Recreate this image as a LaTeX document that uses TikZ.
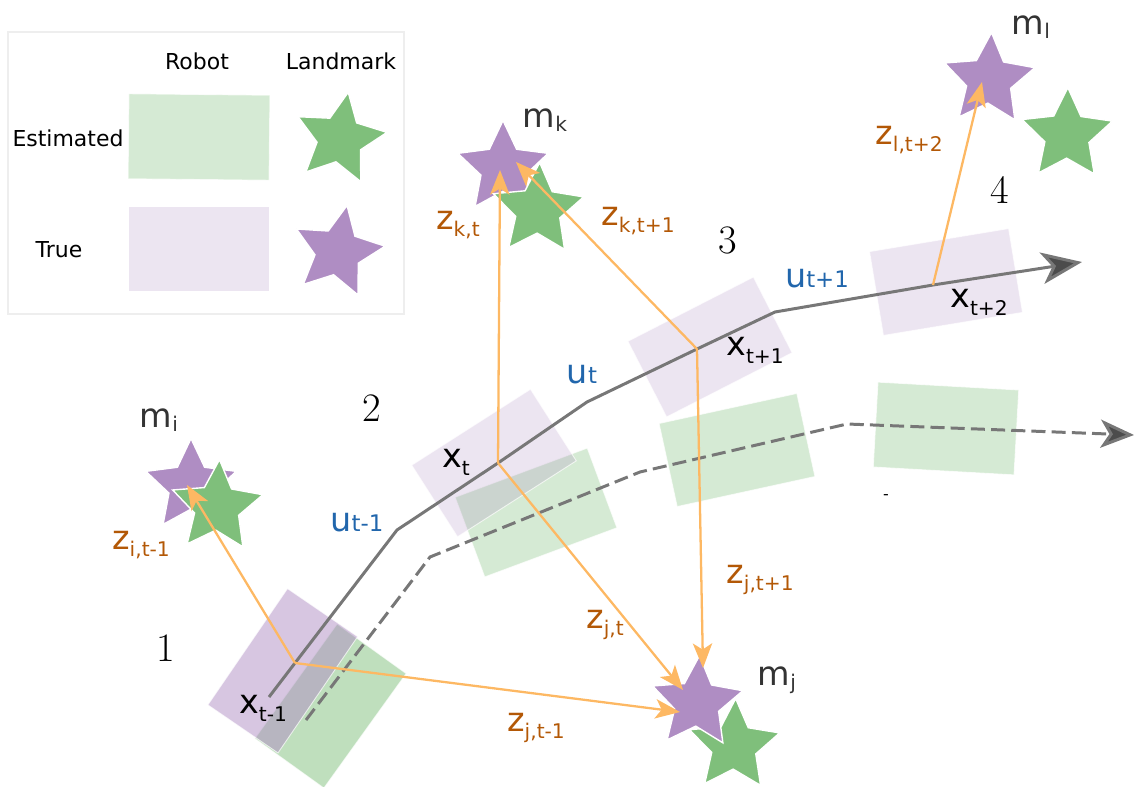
\documentclass[tikz,border=0pt]{standalone}
\usepackage{fontspec}
\newfontfamily\labelfont{DejaVu Sans}
\usetikzlibrary{arrows.meta,shapes.geometric}

\definecolor{truecol}{HTML}{AF8DC3}
\definecolor{estcol}{HTML}{7FBF7B}
\definecolor{measline}{HTML}{FDB863}
\definecolor{measlbl}{HTML}{B35806}
\definecolor{ctrlblue}{HTML}{2166AC}
\definecolor{trajgray}{HTML}{777777}
\definecolor{mgray}{HTML}{333333}
\definecolor{legendframe}{HTML}{EEEEEE}

% label with lowered subscript / control label with inline subscript
\newcommand\lowsub[3][-4.5pt]{#2\raisebox{#1}{\fontsize{11.5}{11.5}\selectfont #3}}
\newcommand\ctrlsub[2]{#1{\fontsize{13}{13}\selectfont #2}}

\begin{document}
\begin{tikzpicture}[x=0.02cm, y=-0.02cm,
  truepose/.style={rectangle, fill=truecol, fill opacity=0.23, draw=white, draw opacity=0.7, line width=0.5pt, minimum width=2.82cm, minimum height=1.7cm},
  estpose/.style={truepose, fill=estcol, fill opacity=0.33},
  lmk/.style={star, star points=5, star point ratio=2.05, minimum size=1.9cm, inner sep=0pt, draw=white, line width=0.8pt},
  truelmk/.style={lmk, fill=truecol},
  estlmk/.style={lmk, fill=estcol},
  meas/.style={draw=measline, line width=1.3pt, -{Stealth[length=14pt, width=11pt, inset=3.5pt]}},
  traj/.style={draw=trajgray, line width=1.7pt, -{Stealth[length=23pt, width=18pt, inset=6pt, fill=black!70]}},
  lbl/.style={font=\labelfont\fontsize{19}{19}\selectfont, inner sep=0pt},
  zlbl/.style={lbl, text=measlbl},
  ulbl/.style={lbl, text=ctrlblue},
  mlbl/.style={lbl, text=mgray},
  stage/.style={font=\fontsize{23}{23}\selectfont, inner sep=0pt},
  legtxt/.style={font=\labelfont\fontsize{12.5}{12.5}\selectfont, inner sep=0pt}
]
\useasboundingbox (0,0) rectangle (1135,787);

% legend
\node[draw=legendframe, line width=1.1pt, minimum width=7.92cm, minimum height=5.64cm] (legend) at (206,173) {};
\node[legtxt] (hrobot) at (197,61) {Robot};
\node[legtxt] (hlmk) at (341,61) {Landmark};
\node[legtxt] (hest) at (68,138) {Estimated};
\node[legtxt] (htrue) at (59,250) {True};
\node[estpose, rotate=-0.6] (legest) at (199,137) {};
\node[truepose] (legtrue) at (199,249) {};
\node[estlmk, rotate=-10] (legestlmk) at (340,139) {};
\node[truelmk, rotate=-11] (legtruelmk) at (338,252) {};

% robot poses
\node[estpose, fill opacity=0.5, rotate=54.3] (est1) at (330.5,706) {};
\node[truepose, fill opacity=0.5, rotate=55.6] (true1) at (282.75,670.75) {};
\node[estpose, rotate=20.4] (est2) at (536,512.5) {};
\node[truepose, rotate=32.6] (true2) at (494,463) {};
\node[estpose, rotate=12.3] (est3) at (737,450) {};
\node[truepose, rotate=27.1] (true3) at (710,347) {};
\node[estpose, rotate=-3.2] (est4) at (946,428.5) {};
\node[truepose, rotate=9.4] (true4) at (946,282) {};

% trajectories
\coordinate (s0) at (269,697);
\coordinate (xa) at (295,663);
\coordinate (b1) at (397,530);
\coordinate (xb) at (498,463);
\coordinate (b2) at (587,402);
\coordinate (xc) at (697,349);
\coordinate (b3) at (775,312);
\coordinate (xd) at (933,285);
\coordinate (send) at (1082,262);
\draw[traj] (s0) -- (xa) -- (b1) -- (xb) -- (b2) -- (xc) -- (b3) -- (xd) -- (send);

\coordinate (d0) at (306,720);
\coordinate (d1) at (430,557);
\coordinate (d2) at (640,472);
\coordinate (d3) at (847,424);
\coordinate (dend) at (1134,435);
\draw[traj, dash pattern=on 8pt off 3.5pt, -{Stealth[length=19pt, width=16pt, inset=5pt, fill=black!70]}] (d0) -- (d1) -- (d2) -- (d3) -- (dend);

% landmarks
\node[truelmk] (mitrue) at (191,486) {};
\node[estlmk, rotate=-3] (miest) at (217,507) {};
\node[truelmk] (mktrue) at (503,168) {};
\node[estlmk, rotate=-2] (mkest) at (538,210) {};
\node[estlmk, rotate=-2] (mjest) at (734,746) {};
\node[truelmk, rotate=-3] (mjtrue) at (697,703) {};
\node[truelmk, rotate=-3] (mltrue) at (989,80) {};
\node[estlmk, rotate=-1] (mlest) at (1067,135) {};

% measurements
\coordinate (tipi) at (187,485);
\coordinate (tipja) at (680,712);
\coordinate (tipka) at (500,170);
\coordinate (tipjb) at (683,690);
\coordinate (tipkb) at (516,162);
\coordinate (tipjc) at (703,668);
\coordinate (tipl) at (982,82);
\draw[meas] (xa) -- (tipi);
\draw[meas] (xa) -- (tipja);
\draw[meas] (xb) -- (tipka);
\draw[meas] (xb) -- (tipjb);
\draw[meas] (xc) -- (tipkb);
\draw[meas] (xc) -- (tipjc);
\draw[meas] (xd) -- (tipl);

% labels
\node[lbl] (lxa) at (263,708) {\lowsub{x}{t-1}};
\node[lbl] (lxb) at (456,462) {\lowsub{x}{t}};
\node[lbl] (lxc) at (755,350) {\lowsub{x}{t+1}};
\node[lbl] (lxd) at (979,302) {\lowsub{x}{t+2}};
\node[ulbl] (lua) at (357,522) {\ctrlsub{u}{t-1}};
\node[ulbl] (lub) at (582,374) {\ctrlsub{u}{t}};
\node[ulbl] (luc) at (817,278) {\ctrlsub{u}{t+1}};
\node[zlbl] (lzi) at (141,545) {\lowsub[-3.8pt]{z}{i,t-1}};
\node[zlbl] (lzk) at (458,225) {\lowsub[-3.8pt]{z}{k,t}};
\node[zlbl] (lzkb) at (638,221) {\lowsub[-3.8pt]{z}{k,t+1}};
\node[zlbl] (lzjc) at (760,580) {\lowsub[-3.8pt]{z}{j,t+1}};
\node[zlbl] (lzjb) at (605,625) {\lowsub[-3.8pt]{z}{j,t}};
\node[zlbl] (lzja) at (536,728) {\lowsub[-3.8pt]{z}{j,t-1}};
\node[zlbl] (lzl) at (909,140) {\lowsub[-3.8pt]{z}{l,t+2}};
\node[mlbl] (lmi) at (159,420) {\lowsub[-2.5pt]{m}{i}};
\node[mlbl] (lmk) at (545,120) {\lowsub[-2.5pt]{m}{k}};
\node[mlbl] (lmj) at (777,680) {\lowsub[-2.5pt]{m}{j}};
\node[mlbl] (lml) at (1031,27) {\lowsub[-2.5pt]{m}{l}};
\node[stage] (st1) at (166,648) {1};
\node[stage] (st2) at (372,408) {2};
\node[stage] (st3) at (728,240) {3};
\node[stage] (st4) at (1000,190) {4};
\node[font=\labelfont\fontsize{9}{9}\selectfont, inner sep=0pt] (dash) at (886,497) {-};

\end{tikzpicture}
\end{document}
